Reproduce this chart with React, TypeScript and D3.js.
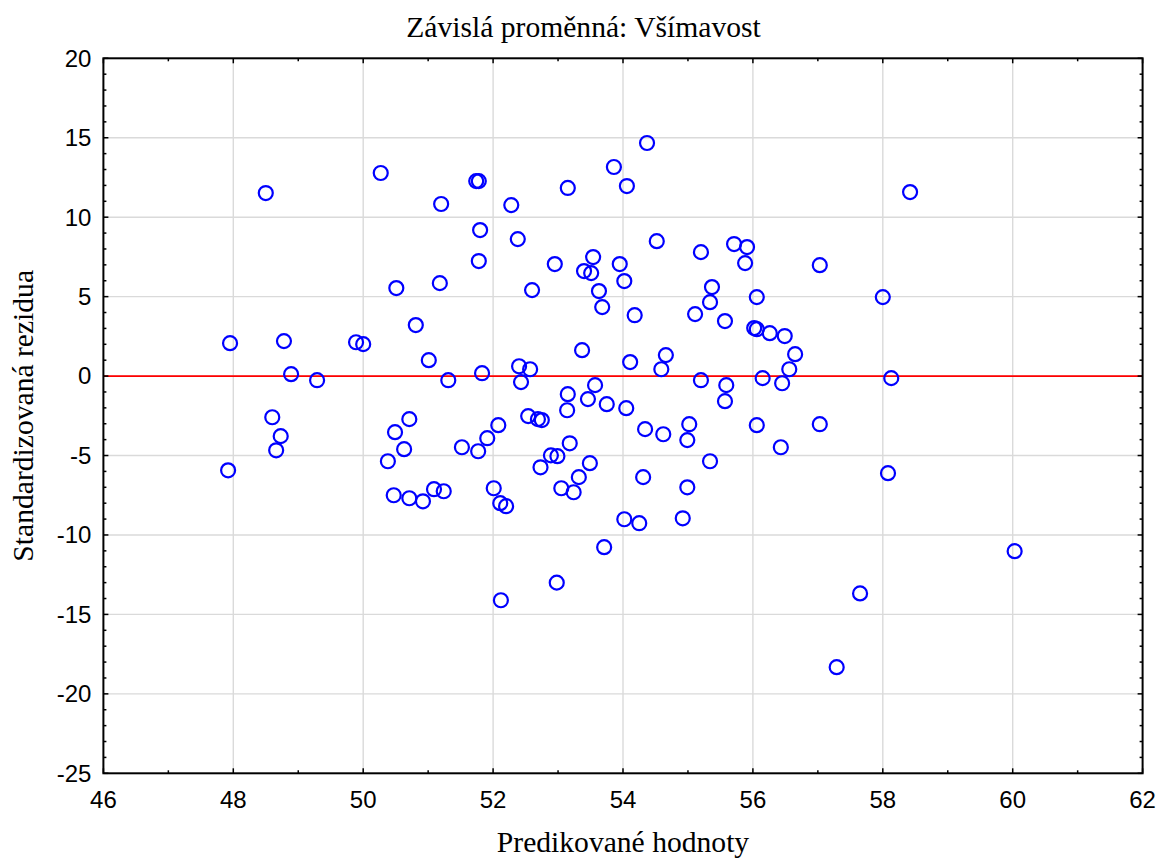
import React, { useEffect, useRef } from "react";
import * as d3 from "d3";

// predicted values (x) and standardized residuals (y)
const predicted = [
  47.92, 47.95, 48.5, 48.78, 48.6, 48.73, 48.66, 48.89, 49.29, 49.89,
  50.0, 50.27, 50.51, 50.81, 51.01, 50.38, 50.49, 50.71, 50.63, 50.47,
  50.71, 50.92, 51.09, 51.24, 51.2, 51.18, 51.31, 51.52, 51.77, 51.91,
  51.74, 51.78, 51.8, 51.78, 51.83, 52.28, 52.38, 52.08, 52.01, 52.11,
  52.2, 52.12, 52.4, 52.43, 52.57, 52.6, 52.54, 52.69, 52.75, 52.73,
  52.89, 52.99, 52.95, 53.05, 53.15, 53.15, 53.14, 53.18, 53.24, 53.32,
  52.98, 53.37, 53.4, 53.51, 53.54, 53.49, 53.46, 53.57, 53.63, 53.68,
  53.75, 53.71, 53.86, 54.06, 53.95, 54.02, 54.05, 54.02, 54.11, 54.18,
  54.25, 54.31, 54.34, 54.37, 54.52, 54.59, 54.62, 54.66, 54.92, 54.99,
  54.99, 55.02, 55.11, 55.2, 55.2, 55.34, 55.37, 55.34, 55.57, 55.59,
  55.57, 55.71, 55.91, 55.88, 56.02, 56.06, 56.06, 56.06, 56.15, 56.26,
  56.49, 56.56, 56.65, 56.45, 56.43, 57.03, 57.03, 57.29, 57.65, 58.0,
  58.08, 58.13, 58.42, 60.03,
];

const residuals = [
  -5.93, 2.07, 11.52, 2.2, -2.59, -3.78, -4.67, 0.12, -0.26, 2.13,
  2.01, 12.78, 5.54, 3.21, 1.0, -5.36, -3.53, -2.71, -4.6, -7.5,
  -7.69, -7.88, -7.12, -7.25, 10.83, 5.85, -0.26, -4.48, -4.73, -3.91,
  12.27, 12.27, 9.19, 7.24, 0.18, 10.76, 8.62, -3.09, -7.06, -8.0,
  -8.19, -14.11, 0.62, -0.38, 0.43, 5.41, -2.52, -2.71, -2.77, -5.74,
  -4.99, -5.04, 7.05, -7.06, 11.84, -1.14, -2.15, -4.23, -7.31, -6.36,
  -13.0, 1.63, 6.61, 6.48, 7.49, -5.48, -1.45, -0.57, 5.35, 4.34,
  -1.77, -10.77, 13.16, 11.96, 7.05, 5.98, -2.02, -9.01, 0.88, 3.83,
  -9.26, -6.36, -3.34, 14.67, 8.49, 0.43, -3.66, 1.32, -8.95, -7.0,
  -4.03, -3.03, 3.9, 7.8, -0.26, 4.65, 5.6, -5.36, 3.46, -0.57,
  -1.58, 8.31, 8.12, 7.11, 3.02, 2.95, 4.97, -3.09, -0.13, 2.7,
  2.52, 0.43, 1.38, -0.45, -4.48, 6.98, -3.03, -18.32, -13.68, 4.97,
  -6.11, -0.13, 11.58, -11.02,
];

const xTickValues = [46, 48, 50, 52, 54, 56, 58, 60, 62];
const yTickValues = [-25, -20, -15, -10, -5, 0, 5, 10, 15, 20];

const title = "Závislá proměnná: Všímavost";
const xLabel = "Predikované hodnoty";
const yLabel = "Standardizovaná rezidua";

const width = 1167;
const height = 860;
const margin = { top: 58.3, right: 24.4, bottom: 86.7, left: 103.4 };

export default function App() {
  const svgRef = useRef<SVGSVGElement>(null);

  useEffect(() => {
    const svg = d3.select(svgRef.current);
    svg.selectAll("*").remove();

    const x = d3
      .scaleLinear()
      .domain([46, 62])
      .range([margin.left, width - margin.right]);
    const y = d3
      .scaleLinear()
      .domain([-25, 20])
      .range([height - margin.bottom, margin.top]);

    const [x0, x1] = x.range();
    const [y0, y1] = y.range(); // y0 bottom, y1 top

    svg.append("rect").attr("width", width).attr("height", height).attr("fill", "white");

    // grid
    const grid = svg.append("g").attr("stroke", "#dadada").attr("stroke-width", 1.4);
    grid
      .selectAll("line.gx")
      .data(xTickValues.slice(1, -1))
      .join("line")
      .attr("x1", (d) => x(d))
      .attr("x2", (d) => x(d))
      .attr("y1", y1)
      .attr("y2", y0);
    grid
      .selectAll("line.gy")
      .data(yTickValues.slice(1, -1))
      .join("line")
      .attr("class", "gy")
      .attr("x1", x0)
      .attr("x2", x1)
      .attr("y1", (d) => y(d))
      .attr("y2", (d) => y(d));

    // zero reference line
    svg
      .append("line")
      .attr("x1", x0)
      .attr("x2", x1)
      .attr("y1", y(0))
      .attr("y2", y(0))
      .attr("stroke", "#ff0000")
      .attr("stroke-width", 1.8);

    // points
    svg
      .append("g")
      .selectAll("circle")
      .data(predicted.map((p, i) => [p, residuals[i]]))
      .join("circle")
      .attr("cx", (d) => x(d[0]))
      .attr("cy", (d) => y(d[1]))
      .attr("r", 7)
      .attr("fill", "none")
      .attr("stroke", "#0000ff")
      .attr("stroke-width", 2.2);

    // frame and inward ticks
    const axes = svg.append("g").attr("stroke", "black");
    axes
      .append("rect")
      .attr("x", x0)
      .attr("y", y1)
      .attr("width", x1 - x0)
      .attr("height", y0 - y1)
      .attr("fill", "none")
      .attr("stroke-width", 2);

    const xMinor = d3.range(47, 62, 2);
    const yMinor = d3.range(-24, 20).filter((v) => v % 5 !== 0);
    const xt = [
      ...xTickValues.map((v) => ({ v, len: 5 })),
      ...xMinor.map((v) => ({ v, len: 3 })),
    ];
    const yt = [
      ...yTickValues.map((v) => ({ v, len: 5 })),
      ...yMinor.map((v) => ({ v, len: 3 })),
    ];
    [y0, y1].forEach((yy, k) => {
      axes
        .append("g")
        .selectAll("line")
        .data(xt)
        .join("line")
        .attr("x1", (d) => x(d.v))
        .attr("x2", (d) => x(d.v))
        .attr("y1", yy)
        .attr("y2", (d) => (k === 0 ? yy - d.len : yy + d.len))
        .attr("stroke-width", 1.5);
    });
    [x0, x1].forEach((xx, k) => {
      axes
        .append("g")
        .selectAll("line")
        .data(yt)
        .join("line")
        .attr("x1", xx)
        .attr("x2", (d) => (k === 0 ? xx + d.len : xx - d.len))
        .attr("y1", (d) => y(d.v))
        .attr("y2", (d) => y(d.v))
        .attr("stroke-width", 1.5);
    });

    // tick labels
    const sans = "'Liberation Sans', Arial, sans-serif";
    svg
      .append("g")
      .selectAll("text")
      .data(xTickValues)
      .join("text")
      .attr("x", (d) => x(d))
      .attr("y", y0 + 35)
      .attr("text-anchor", "middle")
      .attr("font-family", sans)
      .attr("font-size", 24)
      .text((d) => d);
    svg
      .append("g")
      .selectAll("text")
      .data(yTickValues)
      .join("text")
      .attr("x", x0 - 12)
      .attr("y", (d) => y(d))
      .attr("dy", "0.35em")
      .attr("text-anchor", "end")
      .attr("font-family", sans)
      .attr("font-size", 24)
      .text((d) => d);

    // titles
    const serif = "'Liberation Serif', 'Times New Roman', serif";
    svg
      .append("text")
      .attr("x", width / 2)
      .attr("y", 36.5)
      .attr("text-anchor", "middle")
      .attr("font-family", serif)
      .attr("font-size", 29.6)
      .text(title);
    svg
      .append("text")
      .attr("x", (x0 + x1) / 2)
      .attr("y", 852)
      .attr("text-anchor", "middle")
      .attr("font-family", serif)
      .attr("font-size", 29.6)
      .text(xLabel);
    svg
      .append("text")
      .attr("transform", `translate(33, ${(y0 + y1) / 2}) rotate(-90)`)
      .attr("text-anchor", "middle")
      .attr("font-family", serif)
      .attr("font-size", 29.6)
      .text(yLabel);
  }, []);

  return (
    <svg
      ref={svgRef}
      width={width}
      height={height}
      style={{ position: "absolute", left: 0, top: 0, display: "block" }}
    />
  );
}
